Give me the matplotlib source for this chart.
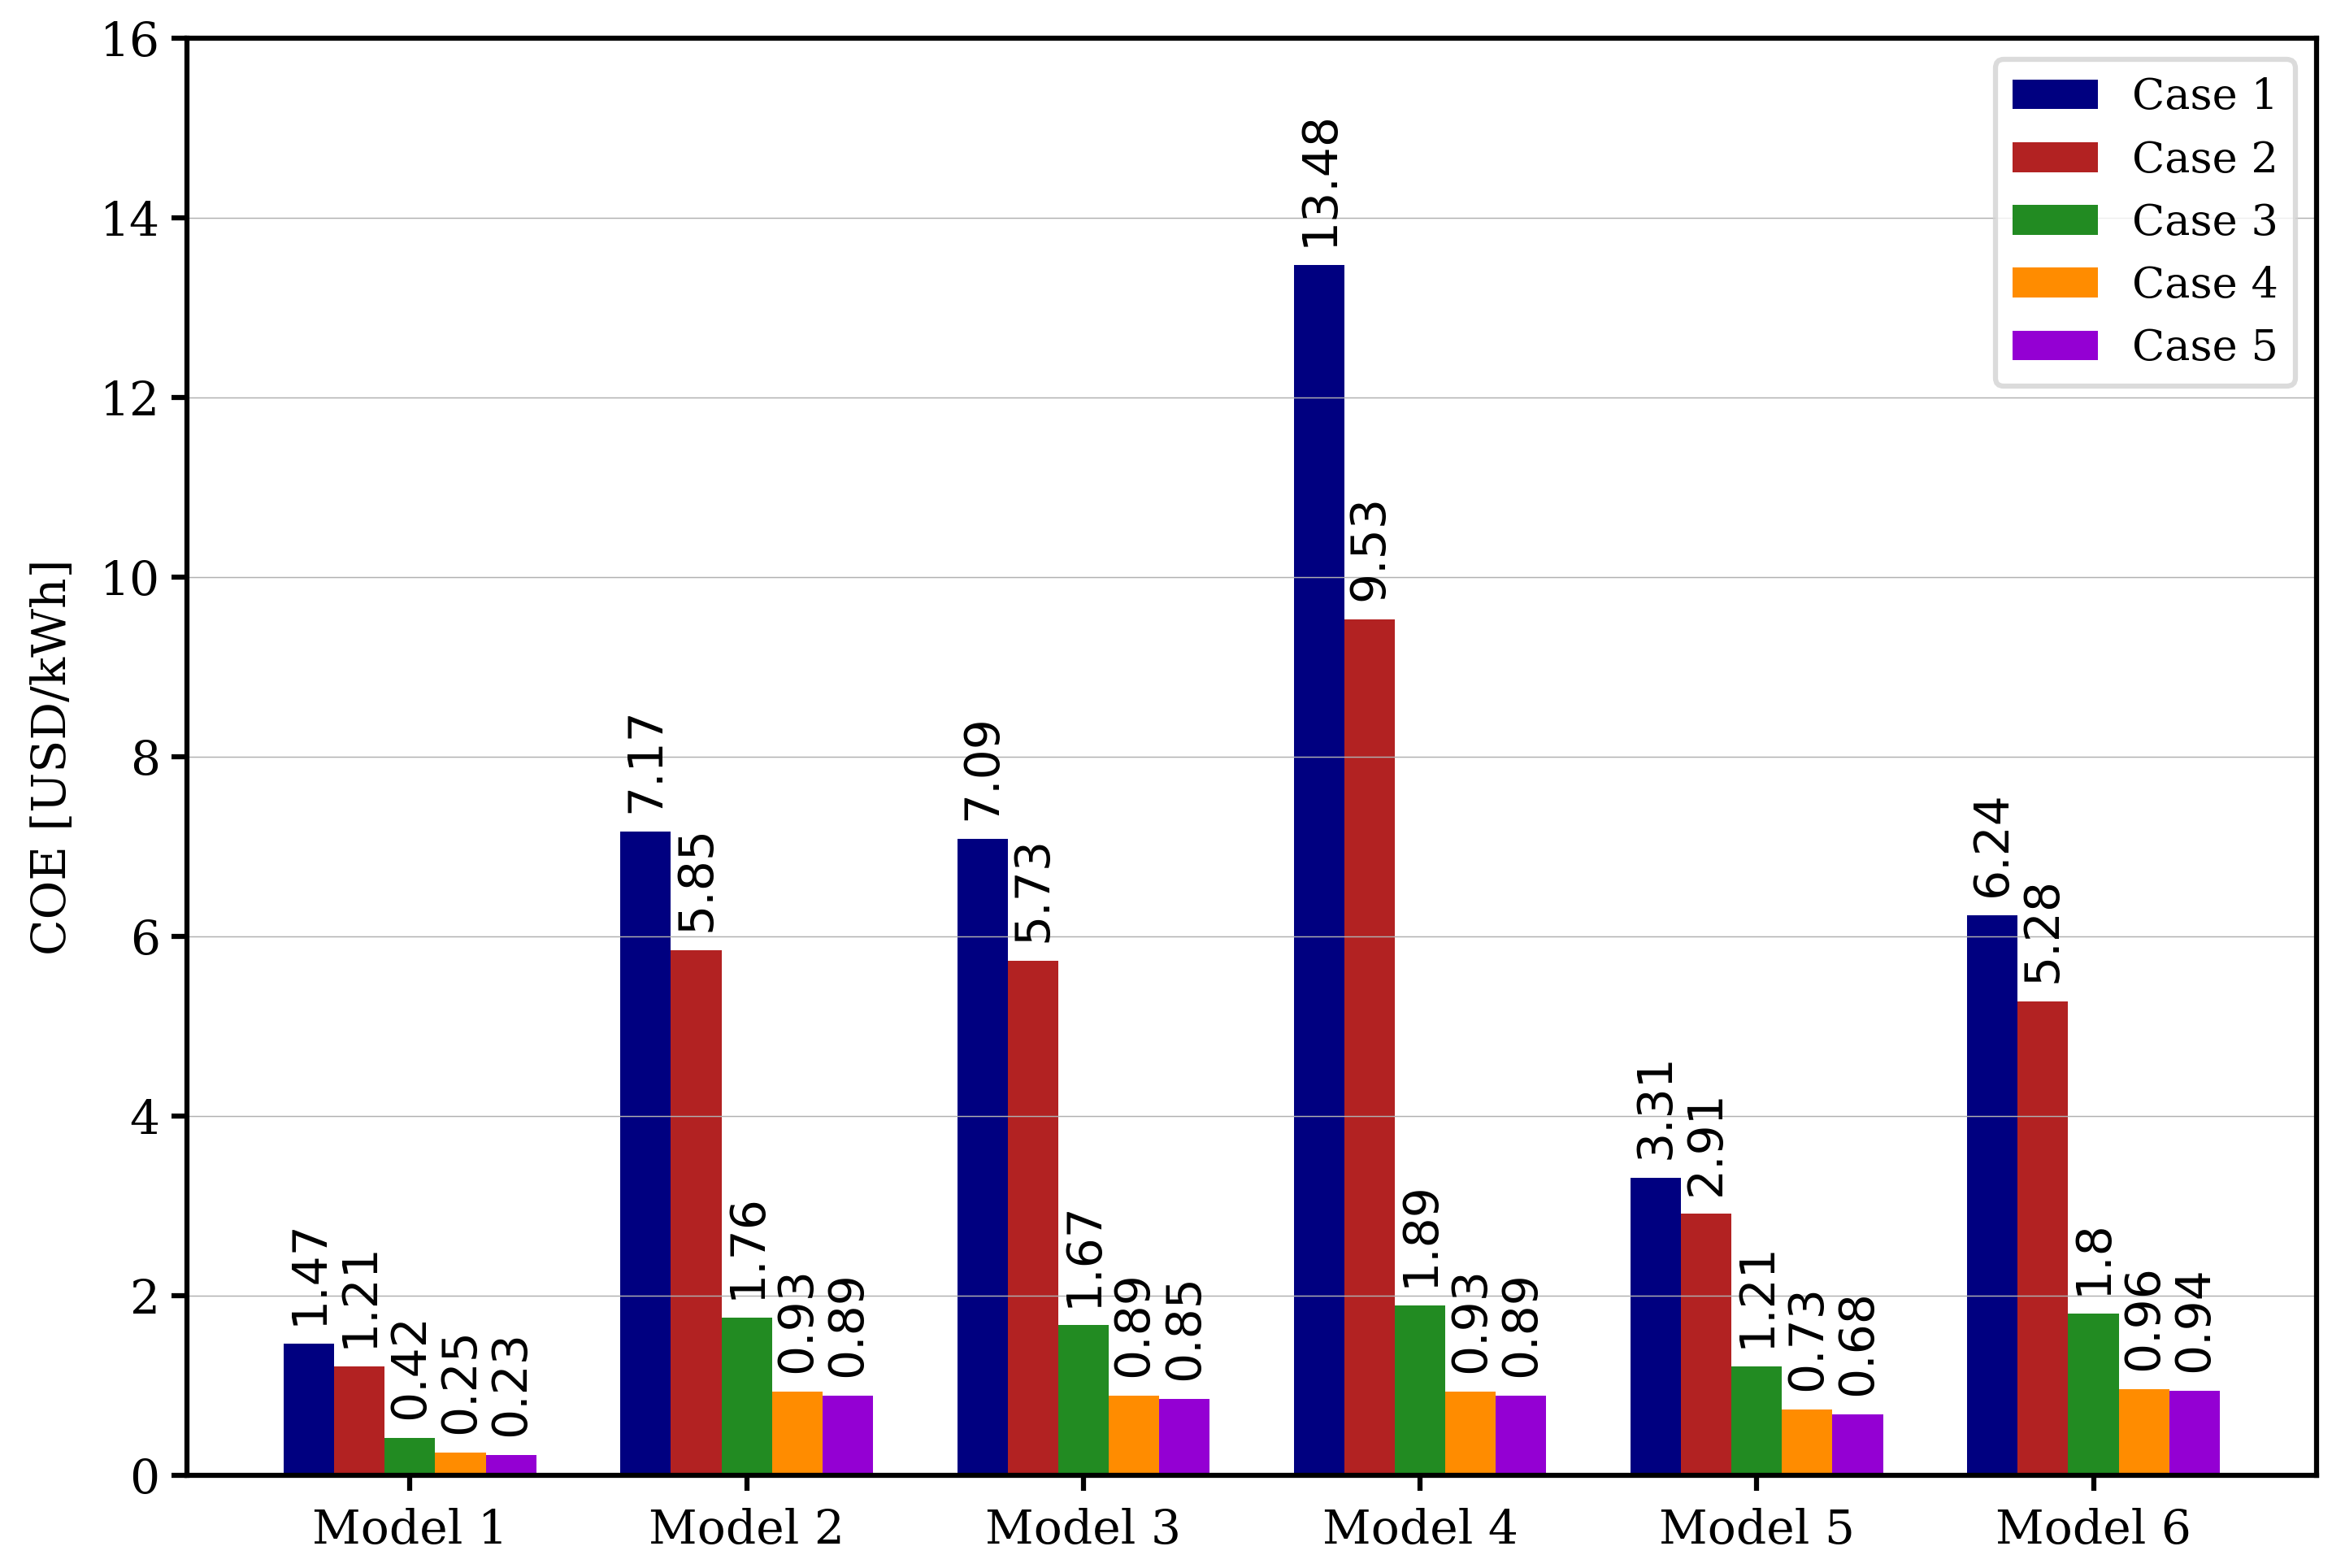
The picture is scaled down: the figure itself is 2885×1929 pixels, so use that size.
import matplotlib.pyplot as plt
import numpy as np

models = ['Model 1', 'Model 2', 'Model 3', 'Model 4', 'Model 5', 'Model 6']
cases = ['Case 1', 'Case 2', 'Case 3', 'Case 4', 'Case 5']
case1 = [1.47, 7.17, 7.09, 13.48, 3.31, 6.24]
case2 = [1.21, 5.85, 5.73, 9.53, 2.91, 5.28]
case3 = [0.42, 1.76, 1.67, 1.89, 1.21, 1.8]
case4 = [0.25, 0.93, 0.89, 0.93, 0.73, 0.96]
case5 = [0.23, 0.89, 0.85, 0.89, 0.68, 0.94]
colors = ['navy', 'firebrick', 'forestgreen', 'darkorange', 'darkviolet']

plt.rcParams['font.family'] = 'DejaVu Serif'

fig = plt.figure(figsize=(9.62, 6.43), dpi=300)
ax = fig.add_axes([0.0797, 0.0591, 0.9078, 0.9165])

x = np.arange(len(models))
width = 0.15
for i, (vals, name) in enumerate(zip([case1, case2, case3, case4, case5], cases)):
    bars = ax.bar(x + (i - 2) * width, vals, width, label=name, color=colors[i])
    ax.bar_label(bars, rotation=90, padding=5.5, fontsize=14, family='DejaVu Sans')

ax.set_ylim(0, 16)
ax.set_xticks(x)
ax.set_xticklabels(models)
ax.set_ylabel('COE [USD/kWh]', fontsize=14, labelpad=7)
ax.tick_params(labelsize=14, width=1.5, length=4.5)
ax.tick_params(axis='x', pad=5)
for s in ax.spines.values():
    s.set_linewidth(1.5)
ax.grid(axis='y', color='#b0b0b0', linewidth=0.35)
leg = ax.legend(loc='upper right', fontsize=12.6, edgecolor='lightgray')
leg.get_frame().set_linewidth(1.5)

fig.savefig('out.png', dpi=300)
